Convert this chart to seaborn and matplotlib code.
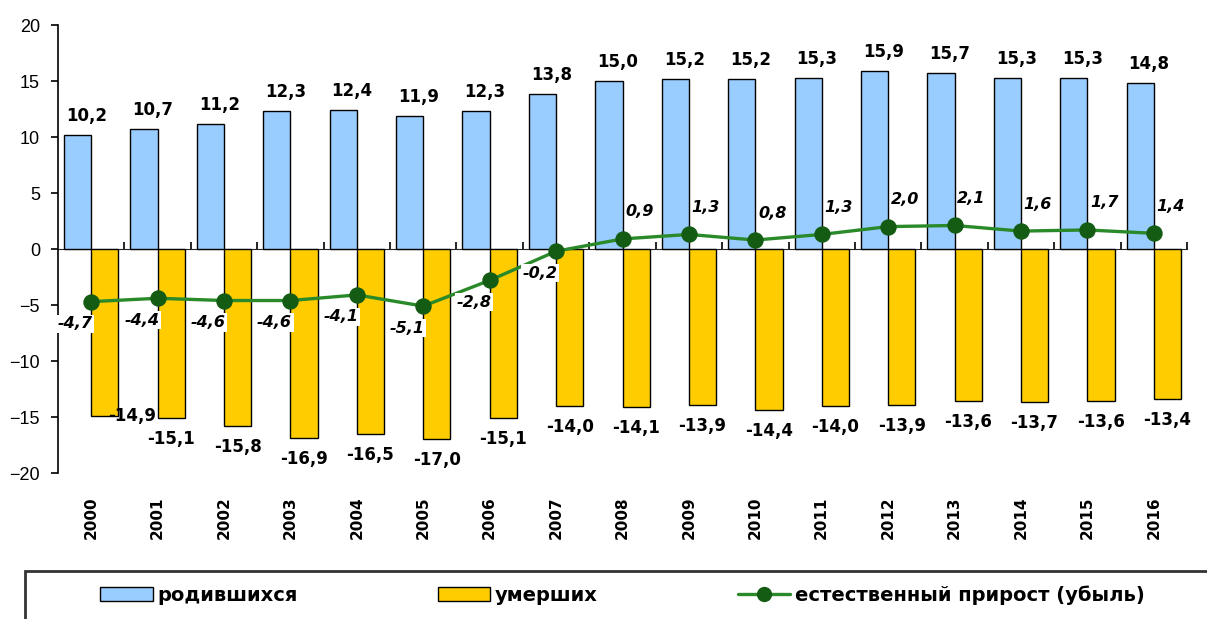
import matplotlib
matplotlib.use("Agg")
import matplotlib.pyplot as plt
import seaborn as sns
import pandas as pd
from matplotlib.patches import Patch, Rectangle
from matplotlib.lines import Line2D

years = ["2000", "2001", "2002", "2003", "2004", "2005", "2006", "2007", "2008",
         "2009", "2010", "2011", "2012", "2013", "2014", "2015", "2016"]
births = [10.2, 10.7, 11.2, 12.3, 12.4, 11.9, 12.3, 13.8, 15.0,
          15.2, 15.2, 15.3, 15.9, 15.7, 15.3, 15.3, 14.8]
deaths = [-14.9, -15.1, -15.8, -16.9, -16.5, -17.0, -15.1, -14.0, -14.1,
          -13.9, -14.4, -14.0, -13.9, -13.6, -13.7, -13.6, -13.4]
growth = [-4.7, -4.4, -4.6, -4.6, -4.1, -5.1, -2.8, -0.2, 0.9,
          1.3, 0.8, 1.3, 2.0, 2.1, 1.6, 1.7, 1.4]
series_names = ["родившихся", "умерших", "естественный прирост (убыль)"]

BLUE = "#99CCFF"
YELLOW = "#FFCC00"
GREEN = "#2A8A2A"
DKGREEN = "#145C14"
LBL_FONT = ["DejaVu Sans"]

sns.set_style("white")
plt.rcParams["font.family"] = ["Liberation Sans", "DejaVu Sans"]
plt.rcParams["text.color"] = "black"
plt.rcParams["xtick.color"] = "black"
plt.rcParams["ytick.color"] = "black"
plt.rcParams["axes.labelcolor"] = "black"

df = pd.DataFrame({
    "year": years * 2,
    "value": births + deaths,
    "series": [series_names[0]] * len(years) + [series_names[1]] * len(years),
})

fig = plt.figure(figsize=(12.07, 6.19), dpi=100)
fig.patch.set_facecolor("white")
ax = fig.add_axes([58 / 1207, (619 - 473) / 619, (1187 - 58) / 1207, 448 / 619])

sns.barplot(data=df, x="year", y="value", hue="series", dodge=True, width=0.82,
            palette=[BLUE, YELLOW], edgecolor="black", linewidth=1.0,
            saturation=1, legend=False, ax=ax, zorder=2)
sns.pointplot(x=years, y=growth, color=GREEN, markers="o", linewidth=2.4,
              markersize=10, ax=ax, zorder=4, errorbar=None)
for ln in ax.lines:
    ln.set_markerfacecolor(DKGREEN)
    ln.set_markeredgecolor(DKGREEN)

ax.set_xlim(-0.5, len(years) - 0.5)
ax.set_ylim(-20, 20)
ax.set_yticks(range(-20, 21, 5))
ax.set_xlabel("")
ax.set_ylabel("")
for s in ["top", "right", "bottom"]:
    ax.spines[s].set_visible(False)
ax.spines["left"].set_color("black")
ax.spines["left"].set_linewidth(1.2)
ax.tick_params(axis="y", direction="out", length=5, width=1.2, pad=8,
               labelsize=13, colors="black", left=True)
ax.tick_params(axis="x", length=0, pad=17, colors="black")
for lab in ax.get_xticklabels():
    lab.set_rotation(90)
    lab.set_fontweight("bold")
    lab.set_fontfamily(LBL_FONT)
    lab.set_fontsize(11)
    lab.set_va("top")

# zero line with category-boundary ticks
sec = ax.secondary_xaxis(0.5)
sec.set_xticks([i - 0.5 for i in range(1, len(years) + 1)])
sec.set_xticklabels([])
sec.tick_params(direction="out", length=5, width=1.2, color="black")
sec.spines["bottom"].set_linewidth(1.5)
sec.spines["bottom"].set_color("black")

# bar labels
blue_bars, yellow_bars = ax.containers[0], ax.containers[1]
for i, b in enumerate(blue_bars):
    xc = b.get_x() + b.get_width() / 2
    ax.annotate(f"{births[i]:.1f}".replace(".", ","), (xc, b.get_height()),
                xytext=(9, 19), textcoords="offset pixels", ha="center", va="center",
                fontsize=12, fontweight="bold", family=LBL_FONT, color="black", zorder=5)
for i, b in enumerate(yellow_bars):
    xc = b.get_x() + b.get_width() / 2
    dx, dy = (27, 0) if i == 0 else (0, -21)
    ax.annotate(f"{deaths[i]:.1f}".replace(".", ","), (xc, b.get_height()),
                xytext=(dx, dy), textcoords="offset pixels", ha="center", va="center",
                fontsize=12, fontweight="bold", family=LBL_FONT, color="black", zorder=5)

# line labels
for i, v in enumerate(growth):
    txt = f"{v:.1f}".replace(".", ",")
    if v < 0:
        ax.annotate(txt, (i, v), xytext=(-16, -22), textcoords="offset pixels",
                    ha="center", va="center", fontsize=11.5, fontweight="bold",
                    fontstyle="italic", family=LBL_FONT, color="black", zorder=6,
                    bbox=dict(boxstyle="square,pad=0.1", fc="white", ec="none"))
    else:
        ax.annotate(txt, (i, v), xytext=(17, 27), textcoords="offset pixels",
                    ha="center", va="center", fontsize=11.5, fontweight="bold",
                    fontstyle="italic", family=LBL_FONT, color="black", zorder=6)

# legend
fig.add_artist(Rectangle((25 / 1207, -0.05), 1.1, (619 - 571) / 619 + 0.05,
                         transform=fig.transFigure, fill=False, ec="#333333", lw=2))
handles = [
    Patch(facecolor=BLUE, edgecolor="black", linewidth=1),
    Patch(facecolor=YELLOW, edgecolor="black", linewidth=1),
    Line2D([0], [0], color=GREEN, lw=2.4, marker="o", markersize=10,
           markerfacecolor=DKGREEN, markeredgecolor=DKGREEN),
]
leg = fig.legend(handles, series_names, loc="center left", ncol=3,
                 bbox_to_anchor=(100 / 1207, 1 - 595 / 619), frameon=False,
                 prop={"weight": "bold", "size": 14, "family": LBL_FONT},
                 handlelength=2.7, handleheight=0.7, handletextpad=0.25,
                 columnspacing=7.2, borderaxespad=0, borderpad=0)
for t in leg.get_texts():
    t.set_color("black")

fig.savefig("out.png", dpi=100, facecolor="white")
